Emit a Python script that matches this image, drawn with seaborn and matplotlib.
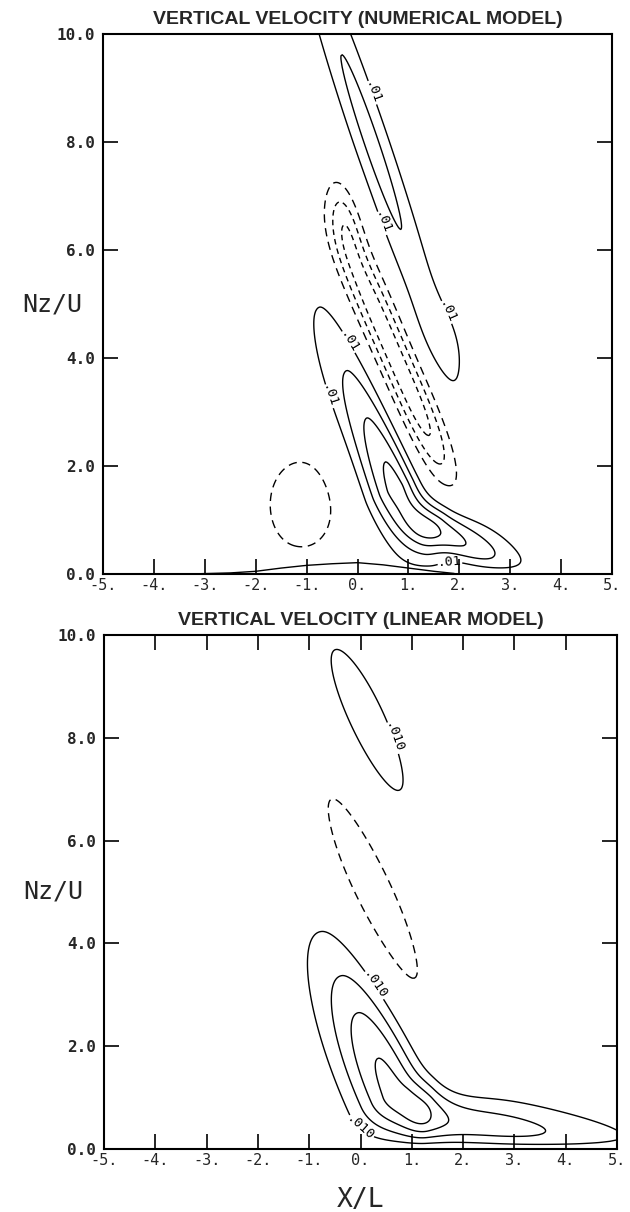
import numpy as np
import matplotlib
matplotlib.use("Agg")
import matplotlib.pyplot as plt
import seaborn as sns

# ---------------------------------------------------------------------------
# data (x in X/L, z in Nz/U, w in contour units)
# ---------------------------------------------------------------------------
x_ticks = [-5, -4, -3, -2, -1, 0, 1, 2, 3, 4, 5]
x_tick_labels = ["-5.", "-4.", "-3.", "-2.", "-1.", "0.", "1.", "2.", "3.", "4.", "5."]
z_ticks = [0, 2, 4, 6, 8, 10]
z_tick_labels = ["0.0", "2.0", "4.0", "6.0", "8.0", "10.0"]

# numerical model: lobes of vertical velocity
# (centre, peak, axis direction, widths left/right of axis, widths up/down along it, sharpness)
num_x0 = [0.75, 1.6, 0.7, -0.25, 0.27, 1.7, -1.1]
num_z0 = [1.6, 0.8, 4.1, 6.6, 8.0, 4.4, 1.28]
num_amp = [0.045, 0.034, -0.036, -0.018, 0.023, 0.007, -0.013]
num_dx = [-0.45, 1.0, -0.46, -0.26, -0.36, -0.45, 0.0]
num_dz = [1.0, -0.47, 1.0, 1.0, 1.0, 1.0, 1.0]
num_wl = [0.6, 0.45, 0.36, 0.3, 0.37, 0.42, 1.2]
num_wr = [0.42, 0.35, 0.36, 0.3, 0.37, 0.42, 1.2]
num_wu = [2.8, 1.7, 2.6, 0.8, 4.6, 0.8, 1.56]
num_wd = [1.4, 0.6, 2.6, 0.8, 4.6, 0.8, 1.56]
num_q = [1.5, 2.0, 4.0, 2.0, 2.0, 2.0, 2.0]
num_levels = [-0.03, -0.02, 0.02, 0.03, 0.04]
num_label_levels = [-0.01, 0.01]
num_label_pos = [(0.25, 8.9), (0.47, 6.49), (1.69, 4.82), (-0.22, 4.27),
                 (-0.78, 3.22), (1.82, 0.1)]

# terrain line drawn at the bottom of the numerical panel
terrain_x = [-3.3, -2.5, -2.0, -1.5, -1.0, -0.5, 0.0, 0.5, 1.0, 1.5, 1.9]
terrain_z = [0.0, 0.02, 0.05, 0.11, 0.16, 0.19, 0.21, 0.17, 0.11, 0.05, 0.01]

# linear model
lin_x0 = [0.65, 1.35, 0.25, 0.12]
lin_z0 = [1.1, 0.6, 5.0, 8.3]
lin_amp = [0.043, 0.029, -0.014, 0.014]
lin_dx = [-0.45, 1.0, -0.43, -0.45]
lin_dz = [1.0, -0.15, 1.0, 1.0]
lin_wl = [0.8, 0.6, 0.69, 0.64]
lin_wr = [0.65, 0.5, 0.69, 0.64]
lin_wu = [2.9, 4.2, 3.6, 2.72]
lin_wd = [0.85, 0.5, 3.6, 2.72]
lin_q = [2.0, 2.0, 2.0, 2.0]
lin_levels = [-0.01, 0.02, 0.03, 0.04]
lin_label_levels = [0.01]
lin_label_pos = [(0.57, 7.97), (0.25, 3.17), (0.02, 0.44)]

ground_scale = 0.12


def lobe(X, Z, x0, z0, amp, dx, dz, wl, wr, wu, wd, q):
    n = np.hypot(dx, dz)
    ux, uz = dx / n, dz / n
    s = (X - x0) * ux + (Z - z0) * uz
    p = (X - x0) * uz - (Z - z0) * ux
    ws = np.where(s >= 0, wu, wd)
    wp = np.where(p >= 0, wr, wl)
    return amp * np.exp(-np.abs(s / ws) ** q - (p / wp) ** 2)


def build_field(X, Z, *params):
    W = np.zeros_like(X)
    for args in zip(*params):
        W += lobe(X, Z, *args)
    return W * (1 - np.exp(-Z / ground_scale))


xs = np.linspace(-5, 5, 401)
zs = np.linspace(0, 10, 401)
X, Z = np.meshgrid(xs, zs)
W_num = build_field(X, Z, num_x0, num_z0, num_amp, num_dx, num_dz,
                    num_wl, num_wr, num_wu, num_wd, num_q)
W_lin = build_field(X, Z, lin_x0, lin_z0, lin_amp, lin_dx, lin_dz,
                    lin_wl, lin_wr, lin_wu, lin_wd, lin_q)

# ---------------------------------------------------------------------------
# figure
# ---------------------------------------------------------------------------
sns.set_style("ticks")
plt.rcParams["font.family"] = ["DejaVu Sans"]
mono = ["DejaVu Sans Mono"]
title_font = ["Liberation Sans Narrow", "Liberation Sans", "DejaVu Sans"]

fig = plt.figure(figsize=(6.3, 12.12), dpi=100)
ax_top = fig.add_axes([0.1635, 0.5264, 0.808, 0.4455])
ax_bot = fig.add_axes([0.1651, 0.0520, 0.8143, 0.4241])


def style_axes(ax, top_ticks):
    ax.set_xlim(-5, 5)
    ax.set_ylim(0, 10)
    ax.set_xticks(x_ticks)
    ax.set_xticklabels(x_tick_labels, family=mono, fontsize=11)
    ax.set_yticks(z_ticks)
    ax.set_yticklabels(z_tick_labels, family=mono, fontsize=11.5, fontweight="bold")
    ax.tick_params(axis="x", direction="in", length=11, width=1.2, top=top_ticks,
                   bottom=True, pad=3, color="black")
    ax.tick_params(axis="y", direction="in", length=11, width=1.2, left=True,
                   right=True, pad=6, color="black")
    for sp in ax.spines.values():
        sp.set_linewidth(1.5)
        sp.set_color("black")
    ax.set_ylabel("Nz/U", rotation=0, fontsize=18, family=mono,
                  ha="right", va="center")
    ax.yaxis.set_label_coords(-0.041, 0.5)


def line_styles(levels):
    styles = []
    for lv in levels:
        if lv < 0:
            styles.append((0, (6, 4)) if lv > -0.015 else (0, (4, 3)))
        else:
            styles.append("solid")
    return styles


def draw_panel(ax, W, levels, label_levels, label_pos, fmt, title):
    ax.contour(X, Z, W, levels=levels, colors="black", linewidths=1.0,
               linestyles=line_styles(levels))
    cs = ax.contour(X, Z, W, levels=label_levels, colors="black", linewidths=1.0,
                    linestyles=line_styles(label_levels))
    texts = ax.clabel(cs, inline=True, fontsize=9.5, fmt=fmt,
                      manual=label_pos, inline_spacing=2)
    for t in texts:
        t.set_family(mono)
    ax.set_title(title, family=title_font, fontsize=14, fontweight="bold", pad=7)


def fmt_num(v):
    return "-.01" if v < 0 else ".01"


def fmt_lin(v):
    return "-.010" if v < 0 else ".010"


style_axes(ax_top, top_ticks=False)
draw_panel(ax_top, W_num, num_levels, num_label_levels, num_label_pos, fmt_num,
           "VERTICAL VELOCITY (NUMERICAL MODEL)")
ax_top.plot(terrain_x, terrain_z, color="black", lw=1.0)

style_axes(ax_bot, top_ticks=True)
draw_panel(ax_bot, W_lin, lin_levels, lin_label_levels, lin_label_pos, fmt_lin,
           "VERTICAL VELOCITY (LINEAR MODEL)")
ax_bot.set_xlabel("X/L", fontsize=19, family=mono, va="center")
ax_bot.xaxis.set_label_coords(0.5, -0.099)

fig.savefig("out.png", dpi=100)
